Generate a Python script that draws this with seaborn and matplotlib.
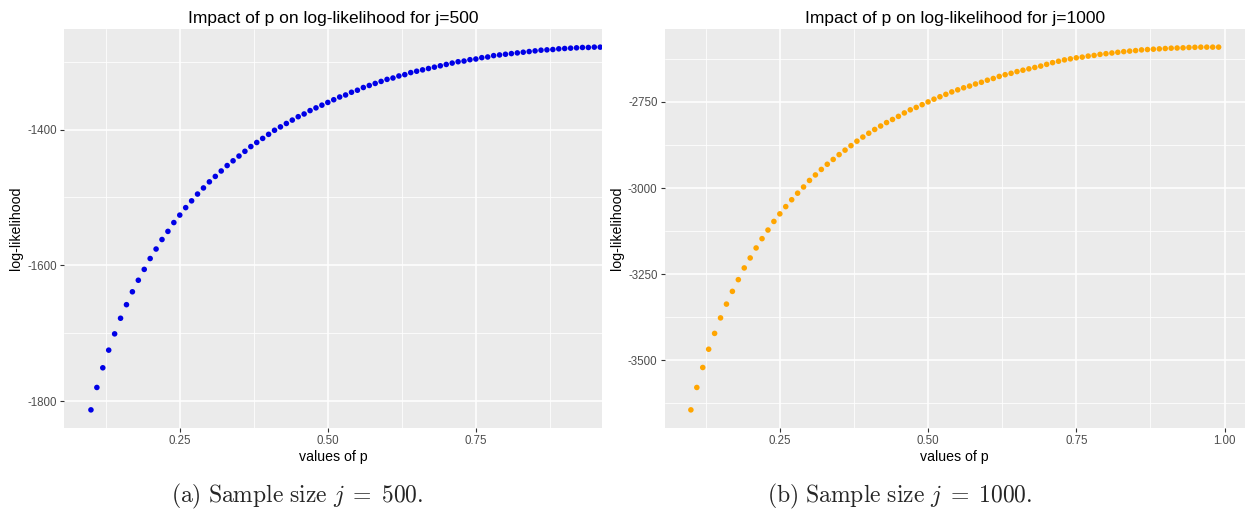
import numpy as np
import pandas as pd
import matplotlib
matplotlib.use("Agg")
import matplotlib.pyplot as plt
from matplotlib.ticker import MultipleLocator, FixedLocator
import seaborn as sns

# ---------------- data ----------------
p_500 = [round(0.10 + 0.01 * i, 2) for i in range(87)]  # 0.10 .. 0.96 (rest cropped)
ll_500 = [-1813, -1780, -1751, -1725, -1701, -1678, -1658, -1639, -1622, -1606,
          -1590, -1576, -1562, -1550, -1537, -1526, -1515, -1505, -1495, -1486,
          -1477, -1469, -1461, -1453, -1446, -1439, -1432, -1425, -1419, -1413,
          -1407, -1401, -1396, -1391, -1386, -1381, -1377, -1372, -1368, -1364,
          -1360, -1356, -1352, -1349, -1345, -1342, -1338, -1335, -1332, -1329,
          -1326, -1324, -1321, -1319, -1316, -1314, -1312, -1310, -1308, -1306,
          -1304, -1302, -1300, -1299, -1297, -1296, -1294, -1293, -1291, -1290,
          -1289, -1288, -1287, -1286, -1285, -1284, -1283, -1282.5, -1282, -1281,
          -1280.5, -1280, -1279.5, -1279, -1279, -1278.5, -1278.5]

p_1000 = [round(0.10 + 0.01 * i, 2) for i in range(90)]  # 0.10 .. 0.99
ll_1000 = [-3644, -3579, -3521, -3468, -3422, -3377, -3337, -3300, -3266, -3232,
           -3203, -3174, -3147, -3122, -3097, -3075, -3054, -3034, -3015, -2997,
           -2978, -2962, -2946, -2931, -2917, -2903, -2890, -2877, -2864, -2852,
           -2841, -2830, -2820, -2810, -2801, -2792, -2782, -2773, -2766, -2758,
           -2750, -2742, -2735, -2728, -2721, -2715, -2709, -2704, -2698, -2693,
           -2687, -2682, -2676, -2671, -2667, -2662, -2658, -2654, -2650, -2646,
           -2641, -2636, -2632, -2628, -2625, -2622, -2620, -2617, -2615, -2612,
           -2610, -2608, -2606, -2604, -2602.5, -2601, -2599, -2598, -2597, -2596,
           -2595, -2594, -2593.5, -2593, -2592, -2591.5, -2591, -2591, -2591, -2591]

x_ticks_500 = [0.25, 0.50, 0.75]
x_labels_500 = ["0.25", "0.50", "0.75"]
y_ticks_500 = [-1800, -1600, -1400]
x_ticks_1000 = [0.25, 0.50, 0.75, 1.00]
x_labels_1000 = ["0.25", "0.50", "0.75", "1.00"]
y_ticks_1000 = [-3500, -3250, -3000, -2750]

titles = ["Impact of p on log-likelihood for j=500",
          "Impact of p on log-likelihood for j=1000"]
captions = [r"$\mathrm{(a)\ Sample\ size\ }j\;=\;500\mathrm{.}$",
            r"$\mathrm{(b)\ Sample\ size\ }j\;=\;1000\mathrm{.}$"]

df500 = pd.DataFrame({"p": p_500, "ll": ll_500})
df1000 = pd.DataFrame({"p": p_1000, "ll": ll_1000})

# ---------------- style ----------------
sns.set_theme(style="darkgrid", rc={
    "axes.facecolor": "#EBEBEB",
    "grid.color": "white",
    "axes.edgecolor": "none",
})
plt.rcParams["font.family"] = ["Liberation Sans", "DejaVu Sans"]
plt.rcParams["mathtext.fontset"] = "cm"

fig = plt.figure(figsize=(12.55, 5.19), dpi=100)
fig.patch.set_facecolor("white")

ax1 = fig.add_axes([64 / 1255, 91 / 519, 538 / 1255, 399 / 519])
ax2 = fig.add_axes([664.5 / 1255, 91 / 519, 580.5 / 1255, 399 / 519])


def expand(vals, frac=0.05):
    lo, hi = min(vals), max(vals)
    d = (hi - lo) * frac
    return lo - d, hi + d


def style_ax(ax, xt, xl, yt, ymin_step, xlim, ylim, title):
    ax.set_xlim(*xlim)
    ax.set_ylim(*ylim)
    ax.xaxis.set_major_locator(FixedLocator(xt))
    ax.set_xticklabels(xl)
    ax.yaxis.set_major_locator(FixedLocator(yt))
    ax.set_yticklabels([str(v) for v in yt])
    ax.xaxis.set_minor_locator(MultipleLocator(0.125))
    ax.yaxis.set_minor_locator(MultipleLocator(ymin_step))
    ax.grid(which="major", color="white", linewidth=1.1)
    ax.grid(which="minor", color="white", linewidth=0.55)
    ax.set_axisbelow(True)
    ax.tick_params(which="major", length=3, width=0.8, color="#333333",
                   labelcolor="#4D4D4D", labelsize=8.3, pad=2,
                   bottom=True, left=True)
    ax.tick_params(which="minor", length=0)
    for s in ax.spines.values():
        s.set_visible(False)
    ax.set_xlabel("values of p", fontsize=10.2, color="black", labelpad=2)
    ax.set_ylabel("log-likelihood", fontsize=10.2, color="black", labelpad=3)
    ax.set_title(title, fontsize=12.5, color="black", pad=4)


sns.scatterplot(data=df500, x="p", y="ll", ax=ax1, color="#0000E6",
                s=16, linewidth=0, edgecolor="none")
sns.scatterplot(data=df1000, x="p", y="ll", ax=ax2, color="#FFA500",
                s=16, linewidth=0, edgecolor="none")

style_ax(ax1, x_ticks_500, x_labels_500, y_ticks_500, 100,
         (0.0545, 0.963), expand(ll_500), titles[0])
style_ax(ax2, x_ticks_1000, x_labels_1000, y_ticks_1000, 125,
         expand(p_1000), expand(ll_1000), titles[1])

fig.text(297 / 1255, 1 - 496 / 519, captions[0], fontsize=17,
         ha="center", va="center")
fig.text(900 / 1255, 1 - 496 / 519, captions[1], fontsize=17,
         ha="center", va="center")

fig.savefig("out.png", dpi=100, facecolor="white")
